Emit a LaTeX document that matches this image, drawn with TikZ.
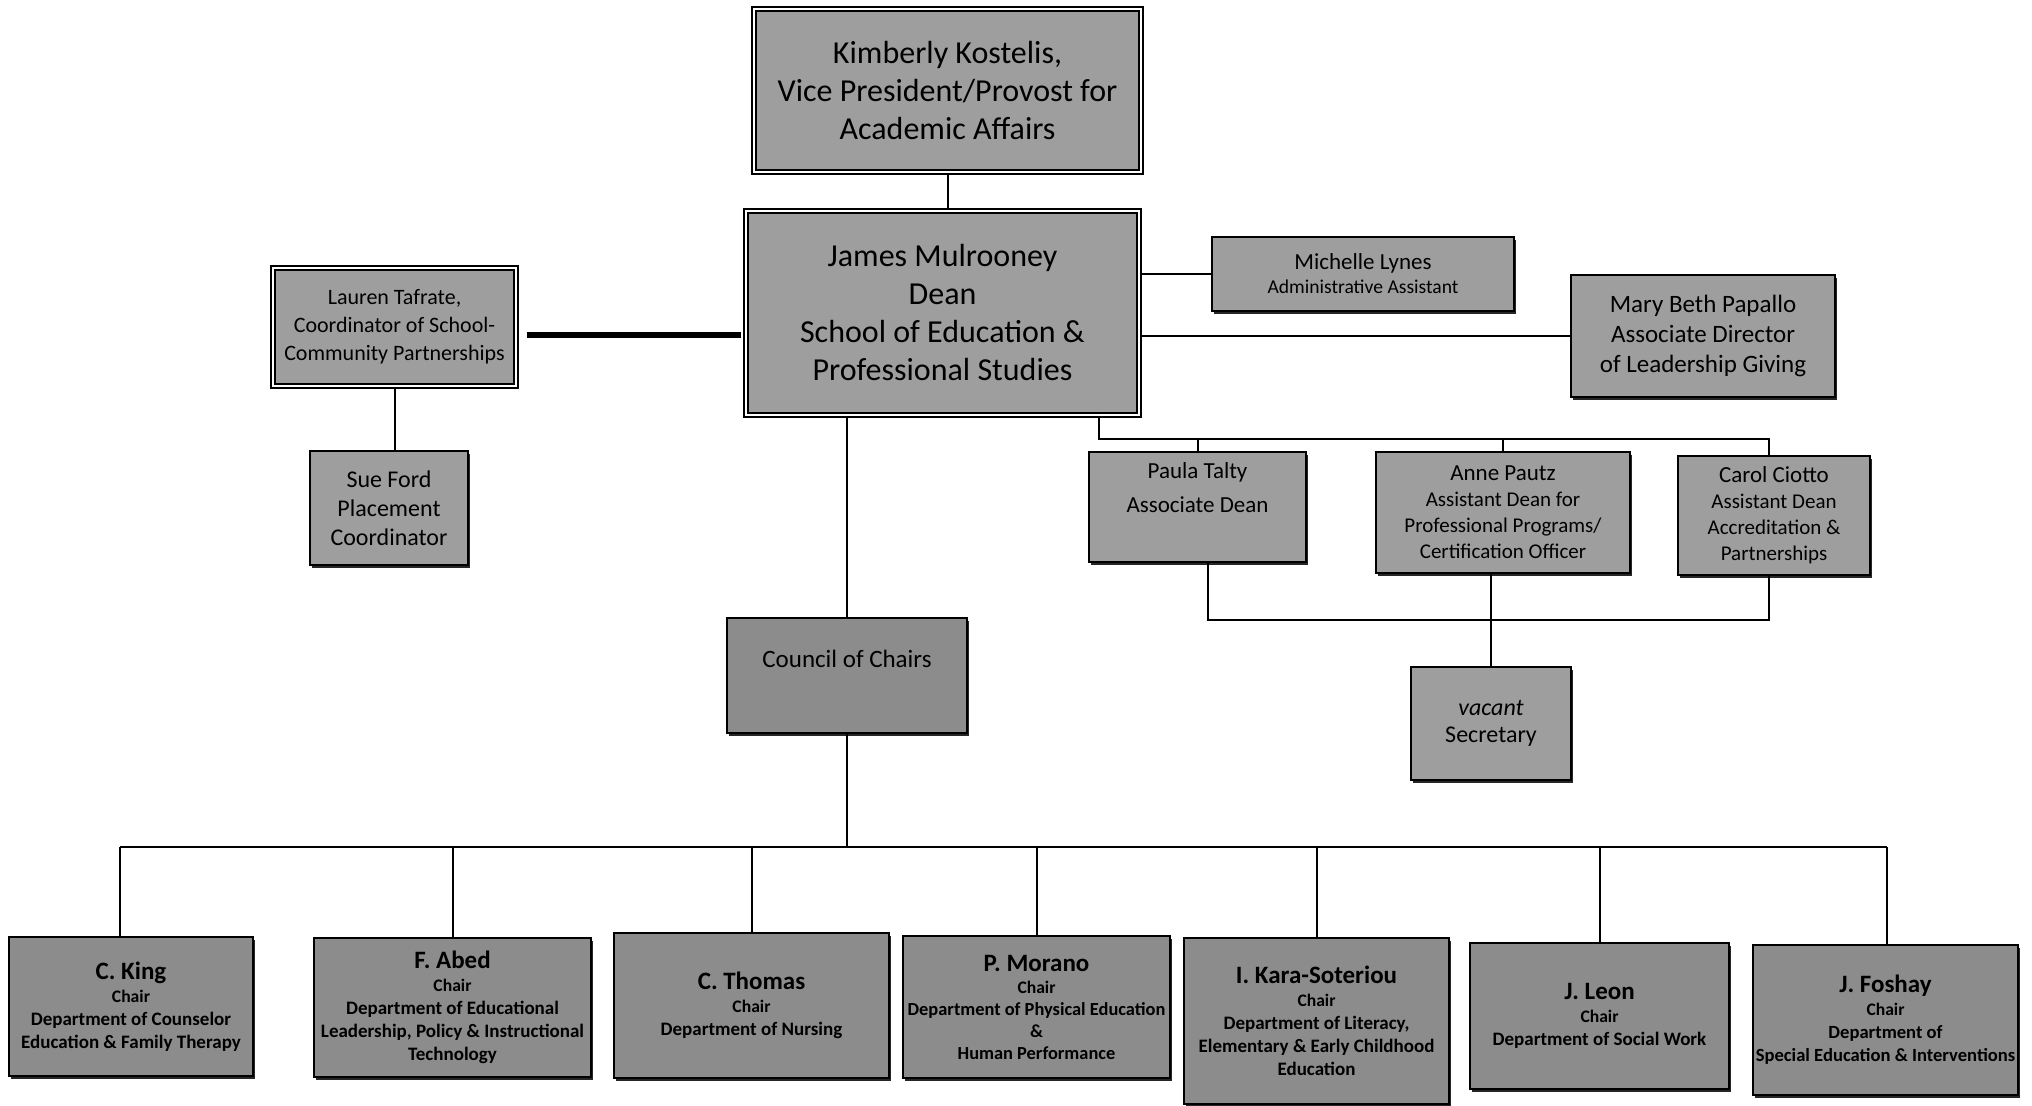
\documentclass[tikz,border=0pt]{standalone}
\usepackage{fontspec}
\setmainfont{Carlito}
\usetikzlibrary{calc,shadows}
\definecolor{boxgray}{RGB}{158,158,158}
\definecolor{boxdark}{RGB}{140,140,140}
\begin{document}
\begin{tikzpicture}[x=0.5pt,y=-0.5pt,
  box/.style={rectangle, fill=boxgray, draw=black, line width=0.9pt, align=center, inner sep=1pt,
    drop shadow={shadow xshift=1.2pt, shadow yshift=-1.6pt, fill=black, opacity=0.85}},
  dbox/.style={rectangle, fill=boxgray, draw=black, line width=0.7pt, double=white, double distance=1.4pt, align=center, inner sep=1pt},
  chairbox/.style={box, fill=boxdark, font=\fontsize{9.5}{11.5}\selectfont\bfseries},
  link/.style={draw=black, line width=1pt},
  big/.style={font=\fontsize{16}{19}\selectfont},
  mid/.style={font=\fontsize{11.5}{14}\selectfont},
  sml/.style={font=\fontsize{10.5}{13}\selectfont}
]
\useasboundingbox[fill=white] (0,0) rectangle (2032,1106);

% top
\node[dbox, big, minimum width=193.5pt, minimum height=81.5pt] (vp) at (947.5,90.5)
  {Kimberly Kostelis,\\Vice President/Provost for\\Academic Affairs};
\node[dbox, big, minimum width=196.5pt, minimum height=102pt] (dean) at (942.5,313)
  {James Mulrooney\\Dean\\School of Education \&\\Professional Studies};
\node[dbox, font=\fontsize{11}{14}\selectfont, minimum width=121.5pt, minimum height=59pt] (lauren) at (394.5,327)
  {Lauren Tafrate,\\Coordinator of School-\\Community Partnerships};
\node[box, font=\fontsize{12}{14.5}\selectfont, minimum width=79pt, minimum height=57pt] (sue) at (389,508)
  {Sue Ford\\Placement\\Coordinator};
\node[box, minimum width=151pt, minimum height=37pt] (michelle) at (1363,274)
  {{\fontsize{11.5}{12.5}\selectfont Michelle Lynes}\\{\fontsize{9.8}{11}\selectfont Administrative Assistant}};
\node[box, font=\fontsize{12.5}{15}\selectfont, minimum width=132pt, minimum height=61pt] (mary) at (1703,336)
  {Mary Beth Papallo\\Associate Director\\of Leadership Giving};

% associate deans
\node[box, mid, minimum width=108.5pt, minimum height=55pt] (paula) at (1197.5,507)
  {Paula Talty\\[3pt]Associate Dean\\[5pt]};
\node[box, sml, minimum width=127pt, minimum height=60.5pt] (anne) at (1503,512.5)
  {{\fontsize{11.5}{13}\selectfont Anne Pautz}\\Assistant Dean for\\Professional Programs/\\Certification Officer};
\node[box, sml, minimum width=96pt, minimum height=59.5pt] (carol) at (1774,515.5)
  {{\fontsize{11.5}{13}\selectfont Carol Ciotto}\\Assistant Dean\\Accreditation \&\\Partnerships};
\node[box, font=\fontsize{12}{13.5}\selectfont, minimum width=80pt, minimum height=56.5pt] (vacant) at (1491,723.5)
  {\textit{vacant}\\Secretary};

% council
\node[box, fill=boxdark, font=\fontsize{12.5}{14}\selectfont, minimum width=120pt, minimum height=57.5pt] (council) at (847,675.5)
  {Council of Chairs\\[3pt]};

% chairs
\node[chairbox, minimum width=122pt, minimum height=69.5pt] (king) at (131,1006.5)
  {{\fontsize{12.5}{14}\selectfont C. King}\\{\fontsize{8.8}{10}\selectfont Chair}\\Department of Counselor\\Education \& Family Therapy};
\node[chairbox, minimum width=138.5pt, minimum height=69.5pt] (abed) at (452.5,1007.5)
  {{\fontsize{12.5}{14}\selectfont F. Abed}\\{\fontsize{8.8}{10}\selectfont Chair}\\Department of Educational\\Leadership, Policy \& Instructional\\Technology};
\node[chairbox, minimum width=137.5pt, minimum height=72.5pt] (thomas) at (751.5,1005.5)
  {{\fontsize{12.5}{14}\selectfont C. Thomas}\\{\fontsize{8.8}{10}\selectfont Chair}\\Department of Nursing};
\node[chairbox, font=\fontsize{9.2}{11}\selectfont\bfseries, minimum width=133.5pt, minimum height=71pt] (morano) at (1036.5,1007)
  {{\fontsize{12.5}{14}\selectfont P. Morano}\\{\fontsize{8.8}{10}\selectfont Chair}\\Department of Physical Education\\\&\\Human Performance};
\node[chairbox, minimum width=132.5pt, minimum height=83pt] (kara) at (1316.5,1021)
  {{\fontsize{12.5}{14}\selectfont I. Kara-Soteriou}\\{\fontsize{8.8}{10}\selectfont Chair}\\Department of Literacy,\\Elementary \& Early Childhood\\Education};
\node[chairbox, minimum width=129.5pt, minimum height=73pt] (leon) at (1599.5,1016)
  {{\fontsize{12.5}{14}\selectfont J. Leon}\\{\fontsize{8.8}{10}\selectfont Chair}\\Department of Social Work};
\node[chairbox, font=\fontsize{9.3}{11.5}\selectfont\bfseries, minimum width=132.5pt, minimum height=75pt] (foshay) at (1885.5,1020)
  {{\fontsize{12.5}{14}\selectfont J. Foshay}\\{\fontsize{8.8}{10}\selectfont Chair}\\Department of\\Special Education \& Interventions};

% helper coordinates
\coordinate (busL) at (120,847);
\coordinate (busR) at (1887,847);
\coordinate (ab) at (1099,439);
\coordinate (lb) at (1208,620);
\coordinate (cx) at (1769,0);

% connectors
\draw[link] (vp.south) -- (vp.south |- dean.north);
\draw[link] (council.north) -- (council.north |- dean.south);
\draw[line width=2.6pt, shorten <=5pt, shorten >=2pt] ($(lauren.east)+(0,8)$) -- ($(dean.west |- lauren.east)+(0,8)$);
\draw[link] (lauren.south) -- (lauren.south |- sue.north);
\draw[link] (dean.east |- michelle.west) -- (michelle.west);
\draw[link] (dean.east |- mary.west) -- (mary.west);

\draw[link] (dean.south -| ab) -- (ab) -- (ab -| cx) -- (cx |- carol.north);
\draw[link] (paula.north) -- (paula.north |- ab);
\draw[link] (anne.north) -- (anne.north |- ab);
\draw[link] (paula.south -| lb) -- (lb) -- (lb -| cx) -- (cx |- carol.south);
\draw[link] (vacant.north) -- (vacant.north |- anne.south);

\draw[link] (busL) -- (busR);
\draw[link] (council.south) -- (council.south |- busL);
\draw[link] (busL) -- (busL |- king.north);
\draw[link] (abed.north) -- (abed.north |- busL);
\draw[link] (thomas.north) -- (thomas.north |- busL);
\draw[link] (morano.north) -- (morano.north |- busL);
\draw[link] (kara.north) -- (kara.north |- busL);
\draw[link] (leon.north) -- (leon.north |- busL);
\draw[link] (busR) -- (busR |- foshay.north);
\end{tikzpicture}
\end{document}
